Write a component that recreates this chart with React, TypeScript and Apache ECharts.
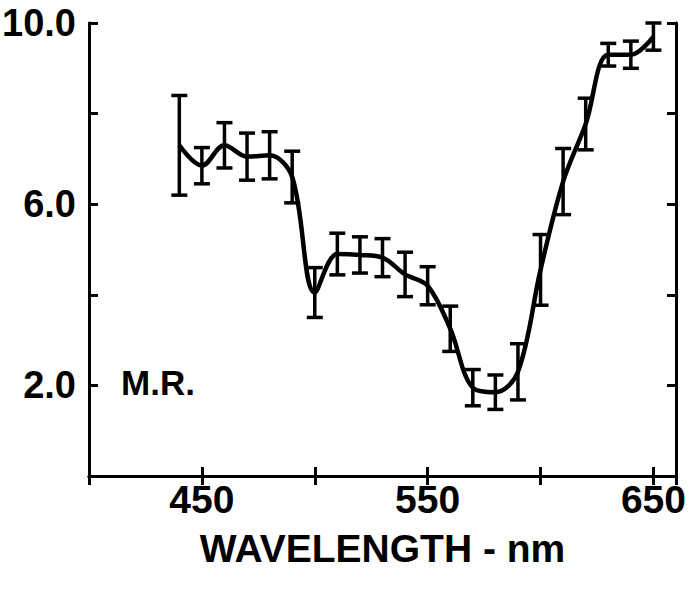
import React, { useEffect, useRef } from "react";
import * as echarts from "echarts";

const wavelengths = [440, 450, 460, 470, 480, 490, 500, 510, 520, 530, 540, 550, 560, 570, 580, 590, 600, 610, 620, 630, 640, 650];
const meanMR = [7.3, 6.85, 7.3, 7.05, 7.08, 6.6, 4.05, 4.9, 4.88, 4.82, 4.45, 4.2, 3.25, 1.95, 1.85, 2.3, 4.55, 6.5, 7.77, 9.3, 9.3, 9.7];
const errMR = [1.1, 0.4, 0.5, 0.52, 0.52, 0.57, 0.55, 0.46, 0.4, 0.42, 0.49, 0.42, 0.5, 0.4, 0.38, 0.62, 0.78, 0.73, 0.57, 0.25, 0.3, 0.3];
const xTickLabels = [450, 550, 650];
const yTickLabels: Record<number, string> = { 2: "2.0", 6: "6.0", 10: "10.0" };
const xTitle = "WAVELENGTH - nm";
const yTitle = "M.R.";

export default function App() {
  const ref = useRef<HTMLDivElement>(null);
  useEffect(() => {
    const chart = echarts.init(ref.current!, null, { renderer: "svg" });
    const font = '"Liberation Sans", Arial, sans-serif';
    const curve = wavelengths.map((w, i) => [w, meanMR[i]]);
    const bars = wavelengths.map((w, i) => [w, meanMR[i] - errMR[i], meanMR[i] + errMR[i]]);
    const axisLine = { show: true, lineStyle: { color: "#000", width: 3 } };
    const tick = { show: true, inside: true, length: 9, lineStyle: { color: "#000", width: 3 } };
    chart.setOption({
      animation: false,
      backgroundColor: "#fff",
      grid: { left: 89, right: 14, top: 23, bottom: 114, containLabel: false, outerBoundsMode: "none" },
      xAxis: [
        {
          type: "value", min: 400, max: 660, interval: 50, position: "bottom",
          axisLine, axisTick: tick, splitLine: { show: false },
          axisLabel: {
            formatter: (v: number) => (xTickLabels.includes(v) ? String(v) : ""),
            color: "#000", fontSize: 39, fontFamily: font, fontWeight: "bold", margin: 4,
            showMinLabel: true, showMaxLabel: true, hideOverlap: false,
          },
          name: xTitle, nameLocation: "middle", nameGap: 53,
          nameTextStyle: { color: "#000", fontSize: 39, fontFamily: font, fontWeight: "bold", verticalAlign: "top" },
        },
        {
          type: "value", min: 400, max: 660, interval: 50, position: "top",
          axisLine, axisTick: tick, splitLine: { show: false }, axisLabel: { show: false },
        },
      ],
      yAxis: [
        {
          type: "value", min: 0, max: 10, interval: 2, position: "left",
          axisLine, axisTick: tick, splitLine: { show: false },
          axisLabel: {
            formatter: (v: number) => yTickLabels[v] ?? "",
            color: "#000", fontSize: 38, fontFamily: font, fontWeight: "bold", margin: 13,
          },
        },
        {
          type: "value", min: 0, max: 10, interval: 2, position: "right",
          axisLine, axisTick: tick, splitLine: { show: false }, axisLabel: { show: false },
        },
      ],
      graphic: [
        {
          type: "text", left: 121, top: 365,
          style: { text: yTitle, fill: "#000", font: `bold 35px ${font}` },
        },
      ],
      series: [
        {
          type: "line", data: curve, smooth: 0.35, symbol: "none",
          lineStyle: { color: "#000", width: 4.5 }, z: 3,
        },
        {
          type: "custom", data: bars, z: 4,
          renderItem: (params: any, api: any) => {
            const x = api.value(0);
            const lo = api.coord([x, api.value(1)]);
            const hi = api.coord([x, api.value(2)]);
            const cw = 8;
            const st = { stroke: "#000", lineWidth: 3.5 };
            return {
              type: "group",
              children: [
                { type: "line", shape: { x1: lo[0], y1: lo[1], x2: hi[0], y2: hi[1] }, style: st },
                { type: "line", shape: { x1: lo[0] - cw, y1: lo[1], x2: lo[0] + cw, y2: lo[1] }, style: st },
                { type: "line", shape: { x1: hi[0] - cw, y1: hi[1], x2: hi[0] + cw, y2: hi[1] }, style: st },
              ],
            };
          },
        },
      ],
    });
    return () => chart.dispose();
  }, []);
  return <div ref={ref} style={{ position: "fixed", left: 0, top: 0, width: 690, height: 590, background: "#fff" }} />;
}
